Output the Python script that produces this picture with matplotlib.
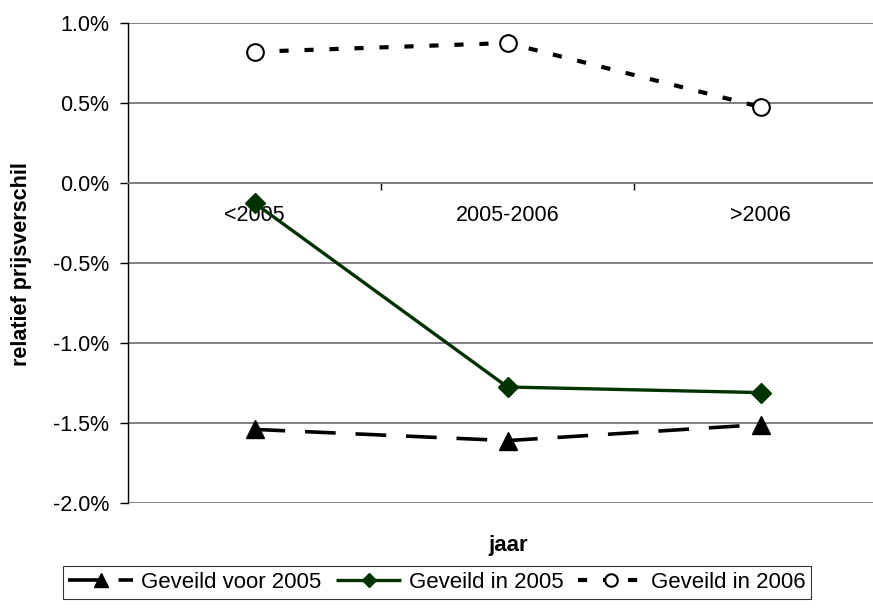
import matplotlib
matplotlib.use("Agg")
from matplotlib import pyplot as plt
from matplotlib.ticker import FixedLocator, FuncFormatter
import numpy as np

plt.rcParams['font.family'] = ['Liberation Sans', 'DejaVu Sans']

# %% data (relatief prijsverschil in %)
categories = ['<2005', '2005-2006', '>2006']
voor_2005 = [-1.54, -1.61, -1.51]
in_2005 = [-0.125, -1.275, -1.31]
in_2006 = [0.82, 0.875, 0.475]
y_ticks = [-2.0, -1.5, -1.0, -0.5, 0.0, 0.5, 1.0]

# %%
fig = plt.figure(figsize=(8.73, 6.12), dpi=100)
ax = fig.add_axes([128 / 873, 1 - 503 / 612, (887 - 128) / 873, 480 / 612])

x = np.arange(len(categories))

ax.plot(x, voor_2005, color='black', lw=2.6, dashes=(8.5, 5.5),
        marker='^', markersize=13, markerfacecolor='black', markeredgecolor='black',
        label='Geveild voor 2005', zorder=4)
ax.plot(x, in_2005, color='#003300', lw=2.4, solid_capstyle='butt',
        marker='D', markersize=10, markerfacecolor='#003300', markeredgecolor='#003300',
        label='Geveild in 2005', zorder=5)
ax.plot(x, in_2006, color='black', lw=3.0, dashes=(2.2, 3.8),
        marker='o', markersize=12, markerfacecolor='white', markeredgecolor='black',
        markeredgewidth=1.5, label='Geveild in 2006', zorder=6)

ax.set_xlim(-0.5, 2.5)
ax.set_ylim(-2.0, 1.0)

# gridlines
ax.yaxis.set_major_locator(FixedLocator(y_ticks))
ax.yaxis.set_major_formatter(FuncFormatter(lambda v, p: f"{v:.1f}%".replace('\u2212', '-')))
ax.grid(axis='y', color='#808080', lw=1.4)
ax.set_axisbelow(True)

# category axis sits on the 0 line
ax.spines['bottom'].set_position(('data', 0))
ax.spines['bottom'].set_color('#808080')
ax.spines['bottom'].set_linewidth(1.4)
ax.spines['top'].set_visible(False)
ax.spines['right'].set_visible(False)
ax.spines['left'].set_color('black')
ax.spines['left'].set_linewidth(1.0)

ax.set_xticks(x)
ax.set_xticklabels(categories)
ax.set_xticks([0.5, 1.5], minor=True)
ax.tick_params(axis='x', which='major', length=0, pad=16, labelsize=15.5)
ax.tick_params(axis='x', which='minor', length=5, width=1, color='black', direction='out')
ax.tick_params(axis='y', length=5.5, width=1, pad=8, labelsize=15.5, direction='out')

fig.text(22 / 873, 1 - 264 / 612, 'relatief prijsverschil', rotation=90,
         ha='center', va='center', fontsize=15.5, fontweight='bold')
fig.text(508 / 873, 1 - 545 / 612, 'jaar', ha='center', va='center',
         fontsize=16, fontweight='bold')

leg = fig.legend(loc='center', bbox_to_anchor=(437 / 873, 1 - 582.5 / 612), ncol=3,
                 fontsize=16, frameon=True, fancybox=False, edgecolor='black',
                 handlelength=2.9, columnspacing=0.68, handletextpad=0.36,
                 borderpad=0.25, borderaxespad=0, markerscale=0.75)
leg.get_frame().set_linewidth(0.8)

plt.savefig("out.png", dpi=100)
